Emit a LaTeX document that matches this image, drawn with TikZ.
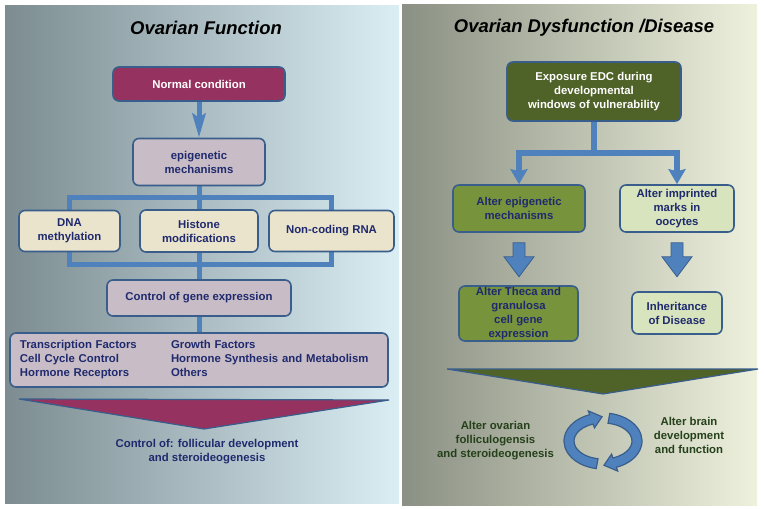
\documentclass[tikz,border=0pt]{standalone}
\usepackage{fontspec}
\setmainfont{Liberation Sans}
\usetikzlibrary{calc,backgrounds,arrows.meta}
\definecolor{leftdark}{HTML}{7C8C91}
\definecolor{leftlight}{HTML}{DAEEF4}
\definecolor{rightdark}{HTML}{8A9083}
\definecolor{rightlight}{HTML}{EEF1DC}
\definecolor{maroon}{HTML}{96325F}
\definecolor{mauve}{HTML}{C8BCC6}
\definecolor{beige}{HTML}{EBE4CC}
\definecolor{darkolive}{HTML}{4F6228}
\definecolor{olive}{HTML}{77933C}
\definecolor{palegreen}{HTML}{D7E4BD}
\definecolor{linkblue}{HTML}{4F81BD}
\definecolor{boxline}{HTML}{3A5E8C}
\definecolor{navytxt}{HTML}{1F2A6E}
\definecolor{greentxt}{HTML}{25411A}
\newcommand*\diagfont{\fontsize{11.4}{14}\selectfont\bfseries}
\tikzset{box/.style={draw=boxline, line width=1.6bp, rounded corners=6bp, align=center,
            font=\diagfont, text=navytxt, inner sep=0pt},
    title/.style={font=\fontsize{18.5}{22}\selectfont\bfseries\itshape},
    note/.style={font=\diagfont, align=center},
    bar/.style={draw=linkblue, line width=5bp},
    conn/.style={bar, -{Stealth[length=24bp,width=13bp,inset=4bp]}},
    fork/.style={draw=linkblue, line width=6bp, -{Stealth[length=15bp,width=17bp,inset=2bp]}},
    blockarrow/.style={fill=linkblue, draw=boxline, line width=0.8bp},
    cyclearrow/.style={fill=linkblue, draw=boxline, line width=1.2bp}}
\newcommand*\downblock[1]{\draw[blockarrow] (#1) ++(-6,10) -- ++(0,14) -- ++(-9,0)
            -- ++(15,20) -- ++(15,-20) -- ++(-9,0) -- ++(0,-14) -- cycle;}

\begin{document}
\begin{tikzpicture}[x=1bp, y=-1bp]
        \useasboundingbox (0,0) rectangle (764,509);
        \begin{scope}[on background layer]
            \shade[left color=leftdark, right color=leftlight] (5,6) rectangle (399,503);
            \shade[left color=rightdark, right color=rightlight] (402,5) rectangle (757,505);
        \end{scope}
        %
        \node[title] (ttlL) at (206,28) {Ovarian Function};
        \node[title] (ttlR) at (584,28) {Ovarian Dysfunction /Disease};
        %
        \node[box, fill=maroon, text=white, minimum width=172bp, minimum height=34bp] (normal) at (199,84) {Normal condition};
        \node[box, fill=mauve, minimum width=132bp, minimum height=47bp] (epi) at (199,162) {epigenetic\\mechanisms};
        \node[box, fill=beige, minimum width=101bp, minimum height=41bp] (dna) at (69.5,231) {DNA\\methylation};
        \node[box, fill=beige, minimum width=118bp, minimum height=42bp] (histone) at (199,231) {Histone\\modifications};
        \node[box, fill=beige, minimum width=125bp, minimum height=41bp] (ncrna) at (331.5,231) {Non-coding RNA};
        \node[box, fill=mauve, minimum width=184bp, minimum height=36bp] (gene) at (199,298) {Control of gene expression};
        \node[box, fill=mauve, text width=358bp, inner xsep=10bp, minimum height=54bp, align=left] (list) at (199,360)
            {\begin{tabular}{@{}p{151bp}@{}l@{}}Transcription Factors & Growth Factors\\
            Cell Cycle Control & Hormone Synthesis and Metabolism\\
            Hormone Receptors & Others\end{tabular}};
        \node[note, text=navytxt] (ctrl) at (207,452) {Control of: follicular development\\and steroideogenesis};
        %
        \coordinate (split1) at (199,198);
        \coordinate (join1) at (199,265);
        \begin{scope}[on background layer]
            \draw[conn] (normal) -- (epi);
            \draw[bar] (epi) -- (split1);
            \draw[bar] (dna.north) |- (split1) -| (ncrna.north);
            \draw[bar] (split1) -- (histone);
            \draw[bar] (dna.south) |- (join1) -| (ncrna.south);
            \draw[bar] (histone) -- (join1);
            \draw[bar] (join1) -- (gene);
            \draw[bar] (gene) -- (list);
        \end{scope}
        \draw[boxline, fill=maroon, line width=1.2bp] (19,399) -- (389,400) -- (204,429) -- cycle;
        %
        \node[box, fill=darkolive, text=white, minimum width=174bp, minimum height=59bp] (expo) at (594,91.5)
            {Exposure EDC during\\developmental\\windows of vulnerability};
        \node[box, fill=olive, minimum width=132bp, minimum height=47bp] (altepi) at (519,208.5) {Alter epigenetic\\mechanisms};
        \node[box, fill=palegreen, minimum width=114bp, minimum height=47bp] (imprint) at (677,208.5) {Alter imprinted\\marks in\\oocytes};
        \node[box, fill=olive, minimum width=119bp, minimum height=55bp] (theca) at (518.5,313.5)
            {Alter Theca and\\granulosa\\cell gene\\expression};
        \node[box, fill=palegreen, minimum width=90bp, minimum height=42bp] (inherit) at (677,313) {Inheritance\\of Disease};
        %
        \coordinate (split2) at (594,153);
        \begin{scope}[on background layer]
            \draw[bar, line width=6bp] (expo) -- (split2);
            \draw[fork] (split2) -| (altepi);
            \draw[fork] (split2) -| (imprint);
        \end{scope}
        \downblock{altepi.south}
        \downblock{inherit.north |- imprint.south}
        \draw[boxline, fill=darkolive, line width=1.2bp] (447,369) -- (758,369) -- (603,394) -- cycle;
        %
        \coordinate (cyc) at (603,441);
        \draw[cyclearrow] ($(cyc)+(100:39 and 28)$) arc[start angle=100, end angle=250, x radius=39, y radius=28]
            -- ($(cyc)+(250:43 and 32)$) -- ($(cyc)+(250:34 and 23)+(-14:11)$) -- ($(cyc)+(250:25 and 14)$)
            -- ($(cyc)+(250:29 and 18)$) arc[start angle=250, end angle=100, x radius=29, y radius=18] -- cycle;
        \draw[cyclearrow] ($(cyc)+(280:39 and 28)$) arc[start angle=280, end angle=430, x radius=39, y radius=28]
            -- ($(cyc)+(430:43 and 32)$) -- ($(cyc)+(430:34 and 23)+(166:11)$) -- ($(cyc)+(430:25 and 14)$)
            -- ($(cyc)+(430:29 and 18)$) arc[start angle=430, end angle=280, x radius=29, y radius=18] -- cycle;
        \node[note, text=greentxt] (ovary) at (495.5,441) {Alter ovarian\\folliculogensis\\and steroideogenesis};
        \node[note, text=greentxt] (brain) at (689,435.5) {Alter brain\\development\\and function};
\end{tikzpicture}
\end{document}
